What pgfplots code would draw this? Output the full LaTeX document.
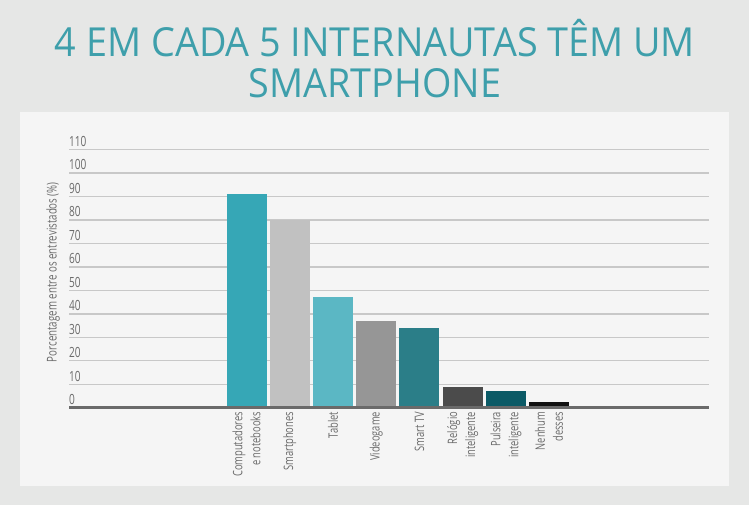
\documentclass[border=0pt]{standalone}
\usepackage{fontspec}
\setmainfont{Open Sans}
\newfontfamily\condensed{Open Sans}[FakeStretch=0.72]
\usepackage{graphicx}
\usepackage{pgfplots}
\pgfplotsset{compat=1.18}

\definecolor{bgc}{HTML}{E6E7E6}
\definecolor{panelc}{HTML}{F5F5F5}
\definecolor{titlec}{HTML}{3E9FAB}
\definecolor{tickc}{HTML}{6A6A6A}
\definecolor{gridc}{HTML}{C8C8C8}
\definecolor{basec}{HTML}{6A6A6A}
\definecolor{c1}{HTML}{36A7B6}
\definecolor{c2}{HTML}{C1C1C1}
\definecolor{c3}{HTML}{5BB7C4}
\definecolor{c4}{HTML}{969696}
\definecolor{c5}{HTML}{2B7E88}
\definecolor{c6}{HTML}{4B4B4B}
\definecolor{c7}{HTML}{0B5A66}
\definecolor{c8}{HTML}{111111}

\begin{document}
\begin{tikzpicture}
% background and white panel
\fill[bgc] (0pt,0pt) rectangle (749pt,505pt);
\fill[panelc] (20pt,19pt) rectangle (729pt,393pt);

% title
\node[anchor=base, text=titlec, inner sep=0pt] at (375pt,448.3pt)
  {\resizebox{640pt}{\height}{\fontsize{40}{40}\selectfont
   \begin{tabular}[t]{@{}c@{}}4 EM CADA 5 INTERNAUTAS TÊM UM\\SMARTPHONE\end{tabular}}};

\begin{axis}[
    at={(69pt,97.3pt)}, anchor=south west,
    scale only axis,
    width=640pt, height=258.2pt,
    xmin=-4.11, xmax=10.70,
    ymin=0, ymax=110,
    clip=false,
    axis line style={draw=none},
    major tick length=0pt,
    ytick={0,10,...,110},
    ymajorgrids,
    grid style={draw=gridc, line width=1.4pt},
    /pgf/number format/assume math mode=true,
    yticklabel style={anchor=base west, inner sep=0pt, yshift=3pt,
        font={\condensed\fontsize{14}{16}\selectfont}, text=tickc},
    xtick={0,...,7},
    xticklabels={{Computadores\\e notebooks}, Smartphones, Tablet, Videogame,
        Smart TV, {Relógio\\inteligente}, {Pulseira\\inteligente}, {Nenhum\\desses}},
    xticklabel style={rotate=90, anchor=east, align=right, inner xsep=4pt, inner ysep=0pt,
        font={\condensed\fontsize{13}{18}\selectfont}, text=tickc},
    ylabel={Porcentagem entre os entrevistados (\%)},
    ylabel style={at={(axis description cs:-0.025,0.525)}, anchor=center,
        font={\condensed\fontsize{13.5}{16}\selectfont}, text=tickc},
    ybar, bar width=40pt,
]
\addplot[fill=c1, draw=none, bar shift=0pt] coordinates {(0,91)};
\addplot[fill=c2, draw=none, bar shift=0pt] coordinates {(1,80)};
\addplot[fill=c3, draw=none, bar shift=0pt] coordinates {(2,47)};
\addplot[fill=c4, draw=none, bar shift=0pt] coordinates {(3,37)};
\addplot[fill=c5, draw=none, bar shift=0pt] coordinates {(4,34)};
\addplot[fill=c6, draw=none, bar shift=0pt] coordinates {(5,9)};
\addplot[fill=c7, draw=none, bar shift=0pt] coordinates {(6,7)};
\addplot[fill=c8, draw=none, bar shift=0pt] coordinates {(7,2.4)};
\draw[basec, line width=2.5pt] (rel axis cs:0,0) -- (rel axis cs:1,0);
\end{axis}

\pgfresetboundingbox
\useasboundingbox (0pt,0pt) rectangle (749pt,505pt);
\end{tikzpicture}
\end{document}
